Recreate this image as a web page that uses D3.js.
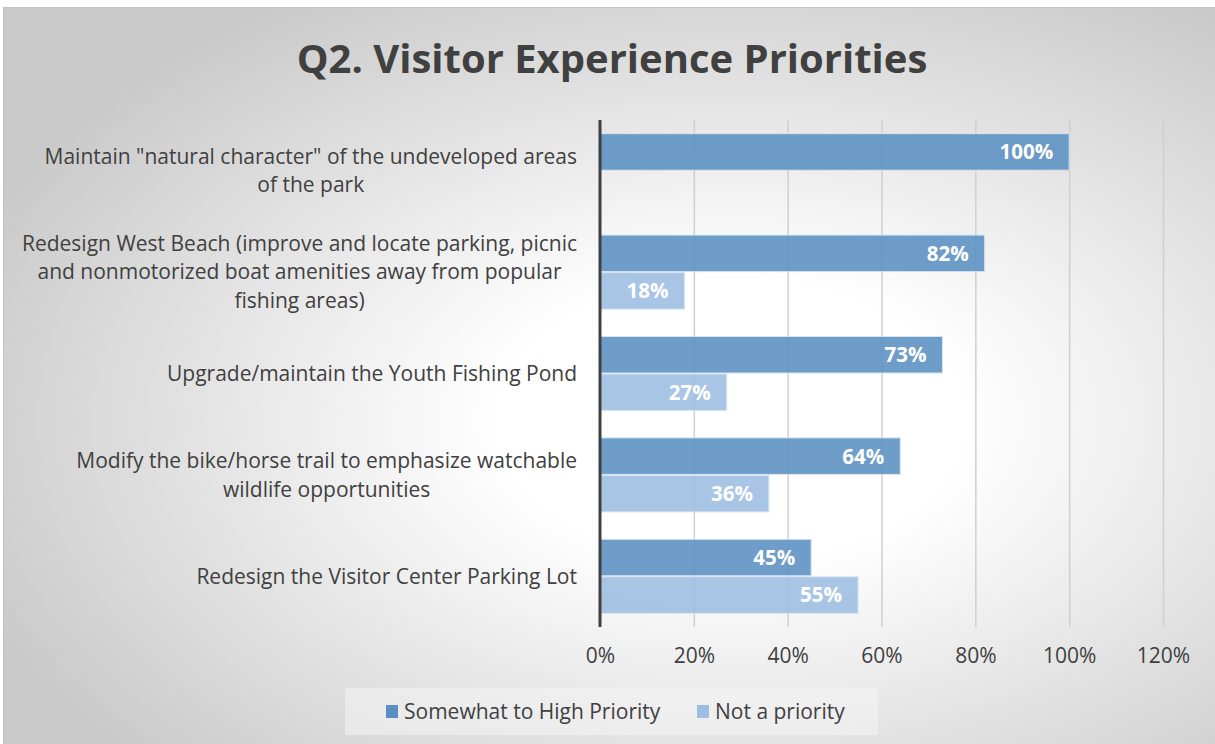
<!DOCTYPE html>
<html>
<head>
<meta charset="utf-8">
<script src="https://cdn.jsdelivr.net/npm/d3@7"></script>
<style>
  body { margin: 0; background: #fff; }
  svg { display: block; }
  text { font-family: "Open Sans", sans-serif; }
</style>
</head>
<body>
<div id="container-div"></div>
<script>
// data
var categories = [
    ["Maintain \"natural character\" of the undeveloped areas", "of the park"],
    ["Redesign West Beach (improve and locate parking, picnic", "and nonmotorized boat amenities away from popular", "fishing areas)"],
    ["Upgrade/maintain the Youth Fishing Pond"],
    ["Modify the bike/horse trail to emphasize watchable", "wildlife opportunities"],
    ["Redesign the Visitor Center Parking Lot"]
];
var highPriority = [1.00, 0.82, 0.73, 0.64, 0.45];
var notPriority = [null, 0.18, 0.27, 0.36, 0.55];
var seriesNames = ["Somewhat to High Priority", "Not a priority"];
var xTicks = [0, 0.2, 0.4, 0.6, 0.8, 1.0, 1.2];

var W = 1215, H = 744;
var colors = ["#5b8fc2", "#9dbde2"];

let viz = d3.select("#container-div").append("svg")
    .attr("width", W)
    .attr("height", H)
    .attr("id", "viz");

var defs = viz.append("defs");
var bg = defs.append("radialGradient")
    .attr("id", "bg")
    .attr("cx", 0.6).attr("cy", 0.56).attr("r", 0.68)
    .attr("fx", 0.6).attr("fy", 0.56);
bg.append("stop").attr("offset", "0").attr("stop-color", "#ffffff");
bg.append("stop").attr("offset", "0.28").attr("stop-color", "#ffffff");
bg.append("stop").attr("offset", "1").attr("stop-color", "#c9c9c9");

var gridGrad = defs.append("linearGradient")
    .attr("id", "grid")
    .attr("gradientUnits", "userSpaceOnUse")
    .attr("x1", 0).attr("y1", 120).attr("x2", 0).attr("y2", 627);
gridGrad.append("stop").attr("offset", "0").attr("stop-color", "#cfcfcf");
gridGrad.append("stop").attr("offset", "1").attr("stop-color", "#7f7f7f");

// chart area background
viz.append("rect")
    .attr("x", 3.5).attr("y", 7.5)
    .attr("width", W - 3).attr("height", H - 7)
    .attr("fill", "url(#bg)")
    .attr("stroke", "#c4c4c4")
    .attr("stroke-width", 1);

// title
viz.append("text")
    .attr("x", 612)
    .attr("y", 73)
    .attr("text-anchor", "middle")
    .attr("font-size", "40px")
    .attr("font-weight", "bold")
    .attr("fill", "#404040")
    .text("Q2. Visitor Experience Priorities");

var x = d3.scaleLinear().domain([0, 1.2]).range([600, 1163]);
var y = d3.scaleBand()
    .domain(d3.range(categories.length))
    .range([120, 627])
    .paddingInner(0.26)
    .paddingOuter(0.13);
var ySub = d3.scaleBand().domain([0, 1]).range([0, y.bandwidth()]);

// gridlines
var xAxis = d3.axisBottom(x)
    .tickValues(xTicks)
    .tickSize(-(627 - 120))
    .tickFormat(d3.format(".0%"));

var axisG = viz.append("g")
    .attr("transform", "translate(0,627)")
    .call(xAxis);
axisG.select(".domain").remove();
axisG.selectAll(".tick line")
    .attr("stroke", "url(#grid)")
    .attr("stroke-width", 1.5)
    .filter(function(d) { return d === 0; }).remove();
axisG.selectAll(".tick text")
    .attr("y", 21)
    .attr("dy", "0.71em")
    .attr("font-family", "'Open Sans', sans-serif")
    .attr("font-size", "21px")
    .attr("fill", "#404040");

// bars
var rows = categories.map(function(c, i) {
    return [
        { cat: i, s: 0, v: highPriority[i] },
        { cat: i, s: 1, v: notPriority[i] }
    ];
});
var flat = [].concat.apply([], rows).filter(function(d) { return d.v != null; });

var bars = viz.selectAll("g.bar").data(flat).enter()
    .append("g")
    .attr("class", "bar");

bars.append("rect")
    .attr("x", x(0))
    .attr("y", function(d) { return y(d.cat) + ySub(d.s) + 0.5; })
    .attr("width", function(d) { return x(d.v) - x(0); })
    .attr("height", ySub.bandwidth() - 1)
    .attr("fill", function(d) { return colors[d.s]; })
    .attr("fill-opacity", 0.88)
    .attr("stroke", "#d6e4f3")
    .attr("stroke-width", 1);

bars.append("text")
    .attr("x", function(d) { return x(d.v) - 16; })
    .attr("y", function(d) { return y(d.cat) + ySub(d.s) + ySub.bandwidth() / 2; })
    .attr("dy", "0.36em")
    .attr("text-anchor", "end")
    .attr("font-size", "20.5px")
    .attr("font-weight", "bold")
    .attr("fill", "#ffffff")
    .text(function(d) { return d3.format(".0%")(d.v); });

// vertical axis line
viz.append("line")
    .attr("x1", x(0)).attr("x2", x(0))
    .attr("y1", 120).attr("y2", 627)
    .attr("stroke", "#404040")
    .attr("stroke-width", 3);

// category labels, lines centred on each other, block right-aligned
var lineH = 28.5;
var labelG = viz.selectAll("g.label").data(categories).enter()
    .append("g")
    .attr("class", "label");

labelG.each(function(lines, i) {
    var g = d3.select(this);
    var cy = y(i) + y.bandwidth() / 2;
    var texts = g.selectAll("text").data(lines).enter()
        .append("text")
        .attr("y", function(d, j) { return cy + (j - (lines.length - 1) / 2) * lineH; })
        .attr("dy", "0.35em")
        .attr("text-anchor", "middle")
        .attr("font-size", "21px")
        .attr("fill", "#404040")
        .text(function(d) { return d; });
    var maxW = 0;
    texts.each(function() { maxW = Math.max(maxW, this.getComputedTextLength()); });
    texts.attr("x", 577 - maxW / 2);
});

// legend
var legendG = viz.append("g");
legendG.append("rect")
    .attr("x", 345).attr("y", 688)
    .attr("width", 533).attr("height", 47)
    .attr("fill", "#f4f4f4")
    .attr("fill-opacity", 0.55);

var legendX = [386, 697];
var items = legendG.selectAll("g").data(seriesNames).enter()
    .append("g")
    .attr("transform", function(d, i) { return "translate(" + legendX[i] + ",712)"; });
items.append("rect")
    .attr("x", 0).attr("y", -7)
    .attr("width", 12).attr("height", 13)
    .attr("fill", function(d, i) { return colors[i]; });
items.append("text")
    .attr("x", 18)
    .attr("dy", "0.35em")
    .attr("font-size", "21px")
    .attr("fill", "#404040")
    .text(function(d) { return d; });
</script>
</body>
</html>
